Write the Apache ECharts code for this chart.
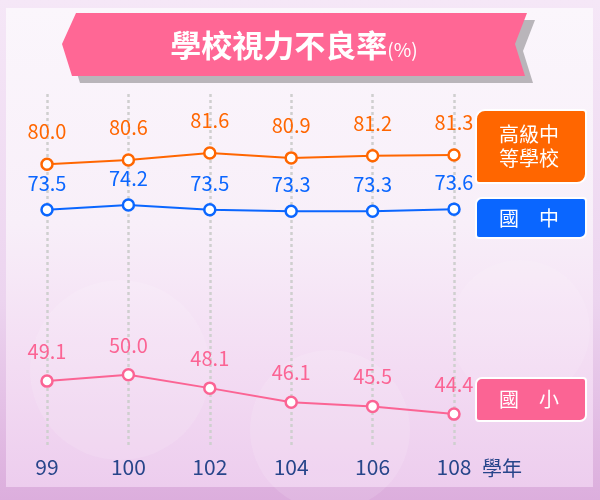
<!DOCTYPE html>
<html>
<head>
<meta charset="utf-8">
<script src="https://cdn.jsdelivr.net/npm/echarts@6/dist/echarts.min.js"></script>
<style>
  html, body { margin: 0; padding: 0; }
  #chart { width: 600px; height: 500px; }
</style>
</head>
<body>
<div id="chart"></div>
<script>
// 學年
var years = ['99', '100', '102', '104', '106', '108'];
// 學校視力不良率 (%)
var senior = [80.0, 80.6, 81.6, 80.9, 81.2, 81.3];     // 高級中等學校
var junior = [73.5, 74.2, 73.5, 73.3, 73.3, 73.6];     // 國中
var elementary = [49.1, 50.0, 48.1, 46.1, 45.5, 44.4]; // 國小

var FONT = '"Noto Sans CJK TC", "Noto Sans", sans-serif';

function lineSeries(name, data, color, dist) {
  return {
    name: name,
    type: 'line',
    data: data,
    symbol: 'circle',
    symbolSize: 11,
    lineStyle: { color: color, width: 2 },
    itemStyle: { color: '#fff', borderColor: color, borderWidth: 2.5 },
    label: {
      show: true,
      position: 'top',
      distance: dist,
      color: color,
      fontSize: 20,
      fontFamily: FONT,
      formatter: function (p) { return p.value.toFixed(1); }
    },
    emphasis: { disabled: true },
    z: 3
  };
}

// banner shape
var banner = [[62, 44], [76, 13], [527, 13], [515, 44], [525, 76], [72, 76]];
var shadow = banner.map(function (p) { return [p[0] + 8, p[1] + 7]; });

function legendBox(y, h, color, text, r) {
  return {
    type: 'group',
    z: 10,
    children: [
      {
        type: 'rect',
        shape: { x: 476, y: y, width: 110, height: h, r: r },
        style: { fill: color, stroke: '#fff', lineWidth: 2 }
      },
      {
        type: 'text',
        x: 529,
        y: y + h / 2,
        style: {
          text: text, fill: '#fff', fontSize: 20, lineHeight: 24,
          fontFamily: FONT, align: 'center', verticalAlign: 'middle'
        }
      }
    ]
  };
}

var chart = echarts.init(document.getElementById('chart'));
chart.setOption({
  animation: false,
  backgroundColor: '#efdcf1',
  grid: { left: 47, right: 146, top: 94, bottom: 55 },
  xAxis: {
    type: 'category',
    data: years,
    boundaryGap: false,
    axisLine: { show: false },
    axisTick: { show: false },
    axisLabel: { color: '#27458a', fontSize: 21, fontFamily: FONT, margin: 12 },
    splitLine: { show: true, lineStyle: { color: '#cfcfcf', width: 2.5, type: [3, 3] } },
    name: '學年',
    nameLocation: 'end',
    nameGap: 28,
    nameTextStyle: { color: '#27458a', fontSize: 20, fontFamily: FONT, align: 'left', verticalAlign: 'top', padding: [13, 0, 0, 0] }
  },
  yAxis: {
    type: 'value',
    min: 40,
    max: 90,
    show: false,
    splitLine: { show: false }
  },
  series: [
    lineSeries('高級中等學校', senior, '#ff6600', 16),
    lineSeries('國中', junior, '#0a66ff', 10),
    lineSeries('國小', elementary, '#fb6494', 13)
  ],
  graphic: [
    {
      type: 'rect', z: -10, silent: true,
      shape: { x: 0, y: 0, width: 600, height: 500 },
      style: { fill: new echarts.graphic.LinearGradient(0, 0, 0, 1, [
        { offset: 0, color: '#f5e7f7' }, { offset: 0.6, color: '#ecd4ef' }, { offset: 1, color: '#dcaedd' }
      ]) }
    },
    {
      type: 'rect', z: -9, silent: true,
      shape: { x: 6, y: 8, width: 587, height: 479 },
      style: { fill: new echarts.graphic.LinearGradient(0, 0, 0, 1, [
        { offset: 0, color: '#fbf6fc' }, { offset: 0.45, color: '#f8eff9' },
        { offset: 0.75, color: '#f3dcf3' }, { offset: 1, color: '#edcdee' }
      ]) }
    },
    {
      type: 'circle', z: -8, silent: true,
      shape: { cx: 120, cy: 370, r: 90 },
      style: { fill: 'rgba(255,255,255,0.12)' }
    },
    {
      type: 'circle', z: -8, silent: true,
      shape: { cx: 330, cy: 430, r: 80 },
      style: { fill: 'rgba(255,255,255,0.12)' }
    },
    {
      type: 'circle', z: -8, silent: true,
      shape: { cx: 520, cy: 330, r: 70 },
      style: { fill: 'rgba(255,255,255,0.1)' }
    },
    {
      type: 'polygon', z: 5, silent: true,
      shape: { points: shadow },
      style: { fill: '#b9b5ba' }
    },
    {
      type: 'polygon', z: 6, silent: true,
      shape: { points: banner },
      style: { fill: '#ff6795' }
    },
    {
      type: 'text', z: 7, silent: true,
      x: 294, y: 45,
      style: {
        text: '{a|學校視力不良率}{b|(%)}',
        align: 'center', verticalAlign: 'middle',
        rich: {
          a: { fontSize: 31, fontWeight: 'bold', fill: '#fff', fontFamily: FONT, verticalAlign: 'bottom' },
          b: { fontSize: 19, fill: '#fff', fontFamily: FONT, verticalAlign: 'bottom', padding: [0, 0, 1, 0] }
        }
      }
    },
    legendBox(110, 73, '#ff6600', '高級中\n等學校', [9, 3, 9, 3]),
    legendBox(198, 40, '#0a66ff', '國　中', [6, 3, 6, 3]),
    legendBox(378, 43, '#fb6494', '國　小', [6, 3, 6, 3])
  ]
});
</script>
</body>
</html>
